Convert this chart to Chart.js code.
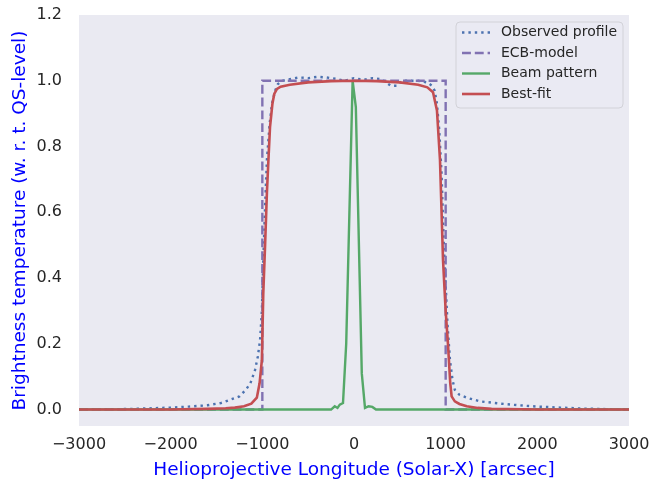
<!DOCTYPE html>
<html>
<head>
<meta charset="utf-8">
<script src="https://cdn.jsdelivr.net/npm/chart.js@4"></script>
<style>
  html, body { margin: 0; padding: 0; background: #fff; }
  #wrap { width: 652px; height: 481px; }
</style>
</head>
<body>
<div id="wrap"><canvas id="profileChart" width="652" height="481"></canvas></div>
<script>
// series (x in arcsec, y in QS units)
var obsX = [-3000, -2600, -2300, -2000, -1800, -1600, -1450, -1350, -1250, -1180, -1130, -1080, -1050, -1025, -1005, -990, -970, -950, -920, -895, -860, -830, -780, -700, -600, -500, -400, -300, -200, -100, 0, 100, 200, 300, 400, 470, 520, 600, 700, 800, 850, 880, 905, 930, 955, 980, 1000, 1020, 1047, 1075, 1100, 1150, 1230, 1375, 1600, 1800, 2000, 2250, 2500, 2800, 3000];
var obsY = [0, 0.001, 0.003, 0.006, 0.009, 0.013, 0.02, 0.03, 0.04, 0.06, 0.08, 0.12, 0.16, 0.21, 0.3, 0.45, 0.62, 0.76, 0.87, 0.93, 0.97, 0.99, 1.0, 1.005, 1.01, 1.008, 1.012, 1.01, 1.006, 1.0, 1.008, 1.003, 1.008, 1.005, 0.985, 0.985, 1.0, 1.0, 1.0, 0.995, 0.985, 0.97, 0.93, 0.85, 0.72, 0.5, 0.38, 0.26, 0.15, 0.09, 0.06, 0.045, 0.036, 0.025, 0.018, 0.013, 0.009, 0.006, 0.003, 0.001, 0];

var ecbX = [-3000, -1000, -1000, 1000, 1000, 3000];
var ecbY = [0, 0, 1, 1, 0, 0];

var beamX = [-3000, -250, -210, -180, -155, -120, -85, -15, 20, 85, 120, 160, 200, 240, 3000];
var beamY = [0, 0, 0.01, 0.005, 0.015, 0.02, 0.2, 1.0, 0.92, 0.11, 0.005, 0.01, 0.008, 0, 0];

var fitX = [-3000, -2000, -1600, -1400, -1300, -1200, -1120, -1060, -1030, -1005, -990, -970, -950, -930, -916, -890, -870, -840, -800, -700, -500, -250, 0, 250, 500, 700, 800, 862, 905, 938, 971, 1000, 1025, 1050, 1065, 1100, 1150, 1230, 1350, 1500, 2000, 3000];
var fitY = [0, 0, 0.002, 0.004, 0.006, 0.01, 0.018, 0.036, 0.08, 0.15, 0.35, 0.5, 0.66, 0.78, 0.86, 0.93, 0.96, 0.975, 0.982, 0.988, 0.995, 0.999, 1.0, 0.999, 0.995, 0.988, 0.98, 0.965, 0.91, 0.76, 0.456, 0.3, 0.2, 0.08, 0.04, 0.025, 0.017, 0.01, 0.005, 0.002, 0, 0];

var xTicks = [-3000, -2000, -1000, 0, 1000, 2000, 3000];
var yTicks = [0, 0.2, 0.4, 0.6, 0.8, 1.0, 1.2];

function pts(xs, ys) {
  return xs.map(function (x, i) { return { x: x, y: ys[i] }; });
}

var tickFont = { family: 'DejaVu Sans', size: 16 };
var titleFont = { family: 'DejaVu Sans', size: 18.5 };

// plot background (seaborn darkgrid)
var bgPlugin = {
  id: 'plotBg',
  beforeDraw: function (chart) {
    var a = chart.chartArea, ctx = chart.ctx;
    ctx.save();
    ctx.fillStyle = '#EAEAF2';
    ctx.fillRect(a.left, a.top, a.right - a.left, a.bottom - a.top);
    ctx.restore();
  }
};

// matplotlib style legend box in the top right corner
var legendPlugin = {
  id: 'boxLegend',
  afterDraw: function (chart) {
    var ctx = chart.ctx, a = chart.chartArea;
    var ds = chart.data.datasets;
    var order = [0, 1, 2, 3];
    var bw = 167, bh = 86;
    var bx = a.right - 6 - bw, by = a.top + 7;
    ctx.save();
    ctx.beginPath();
    if (ctx.roundRect) ctx.roundRect(bx, by, bw, bh, 4); else ctx.rect(bx, by, bw, bh);
    ctx.fillStyle = 'rgba(234,234,242,0.8)';
    ctx.fill();
    ctx.strokeStyle = '#d2d2d8';
    ctx.lineWidth = 1;
    ctx.stroke();
    ctx.font = '14px "DejaVu Sans"';
    ctx.textBaseline = 'middle';
    ctx.fillStyle = '#262626';
    order.forEach(function (k, i) {
      var d = ds[k];
      var y = by + 10.5 + i * 20.5;
      ctx.beginPath();
      ctx.setLineDash(d.borderDash || []);
      ctx.lineCap = 'butt';
      ctx.strokeStyle = d.borderColor;
      ctx.lineWidth = d.borderWidth;
      ctx.moveTo(bx + 6, y);
      ctx.lineTo(bx + 34, y);
      ctx.stroke();
      ctx.setLineDash([]);
      ctx.fillText(d.label, bx + 45, y);
    });
    ctx.restore();
  }
};

new Chart(document.getElementById('profileChart').getContext('2d'), {
  type: 'line',
  data: {
    datasets: [
      {
        label: 'Observed profile',
        data: pts(obsX, obsY),
        borderColor: '#4C72B0',
        borderWidth: 2.4,
        borderDash: [2.4, 4],
        order: 4
      },
      {
        label: 'ECB-model',
        data: pts(ecbX, ecbY),
        borderColor: '#8172B2',
        borderWidth: 2.4,
        borderDash: [8.9, 3.9],
        order: 3
      },
      {
        label: 'Beam pattern',
        data: pts(beamX, beamY),
        borderColor: '#55A868',
        borderWidth: 2.4,
        order: 2
      },
      {
        label: 'Best-fit',
        data: pts(fitX, fitY),
        borderColor: '#C44E52',
        borderWidth: 2.6,
        order: 1
      }
    ]
  },
  options: {
    responsive: false,
    animation: false,
    parsing: false,
    layout: { padding: { top: 15, right: 23, left: 0, bottom: 0 } },
    elements: {
      point: { radius: 0 },
      line: { tension: 0, fill: false, borderCapStyle: 'butt' }
    },
    plugins: {
      legend: { display: false },
      tooltip: { enabled: false }
    },
    scales: {
      x: {
        type: 'linear',
        min: -3000,
        max: 3000,
        grid: { display: false, drawTicks: false },
        border: { display: false },
        afterBuildTicks: function (s) { s.ticks = xTicks.map(function (v) { return { value: v }; }); },
        afterFit: function (s) { s.height = 55; s.paddingLeft = 0; s.paddingRight = 0; },
        ticks: {
          color: '#262626',
          font: tickFont,
          padding: 9,
          maxRotation: 0,
          callback: function (v) { return String(v).replace('-', '\u2212'); }
        },
        title: {
          display: true,
          text: 'Helioprojective Longitude (Solar-X) [arcsec]',
          color: 'blue',
          font: titleFont,
          padding: { top: 0, bottom: 0 }
        }
      },
      y: {
        type: 'linear',
        min: -0.05,
        max: 1.2,
        grid: { display: false, drawTicks: false },
        border: { display: false },
        afterBuildTicks: function (s) { s.ticks = yTicks.map(function (v) { return { value: v }; }); },
        afterFit: function (s) { s.width = 79; s.paddingTop = 0; s.paddingBottom = 0; },
        ticks: {
          color: '#262626',
          font: tickFont,
          padding: 17,
          callback: function (v) { return v.toFixed(1); }
        },
        title: {
          display: true,
          text: 'Brightness temperature (w. r. t. QS-level)',
          color: 'blue',
          font: titleFont,
          padding: { top: 9, bottom: 0 }
        }
      }
    }
  },
  plugins: [bgPlugin, legendPlugin]
});
</script>
</body>
</html>
